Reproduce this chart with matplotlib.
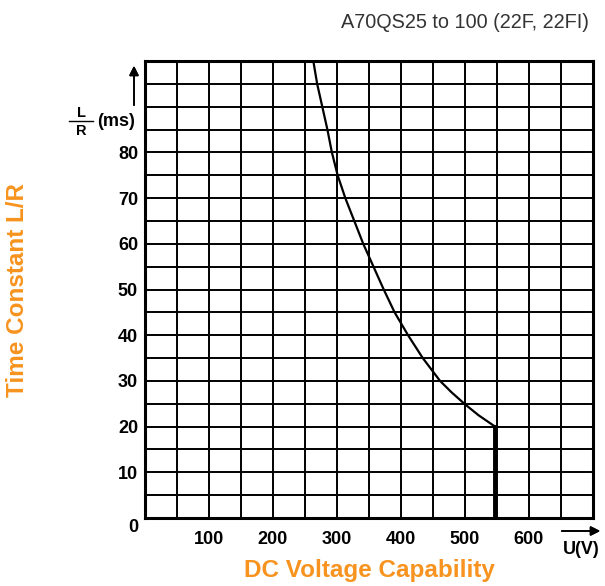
import numpy as np
import matplotlib.pyplot as plt
from matplotlib import font_manager
from matplotlib.lines import Line2D

# curve: DC voltage (V) vs time constant L/R (ms)
voltage = [263, 269, 277, 285, 292, 301, 313, 327, 341, 357, 373, 390, 411, 434, 461, 479, 499, 521, 547]
time_const = [100, 95, 90, 85, 80, 75, 70, 65, 60, 55, 50, 45, 40, 35, 30, 27.5, 25, 22.5, 20]
cutoff_v = 547
cutoff_ms = [20, 0]

x_ticks = [100, 200, 300, 400, 500, 600]
y_ticks = [10, 20, 30, 40, 50, 60, 70, 80]

orange = '#F7931E'
names = {f.name for f in font_manager.fontManager.ttflist}
narrow = 'Liberation Sans Narrow' if 'Liberation Sans Narrow' in names else 'Liberation Sans'

plt.rcParams['font.family'] = ['Liberation Sans', 'DejaVu Sans']

fig = plt.figure(figsize=(6.05, 5.86), dpi=100)
W, H = 605, 586
ax = fig.add_axes([145 / W, 1 - 518 / H, (593 - 145) / W, (518 - 61) / H])

ax.set_xlim(0, 700)
ax.set_ylim(0, 100)
ax.set_xticks(np.arange(0, 701, 50), minor=True)
ax.set_yticks(np.arange(0, 101, 5), minor=True)
ax.set_xticks(x_ticks)
ax.set_yticks(y_ticks)
ax.set_xticklabels([str(v) for v in x_ticks], fontsize=13, fontweight='bold')
ax.set_yticklabels([str(v) for v in y_ticks], fontsize=13, fontweight='bold')
ax.tick_params(axis='both', which='both', length=0)
ax.tick_params(axis='x', pad=9)
ax.tick_params(axis='y', pad=5)
ax.grid(True, which='both', color='black', linewidth=1.4)
ax.set_axisbelow(True)
for s in ax.spines.values():
    s.set_linewidth(2.2)

ax.plot(voltage, time_const, color='black', linewidth=1.6, zorder=3)
ax.plot([cutoff_v, cutoff_v], cutoff_ms, color='black', linewidth=2.8, zorder=3)

# corner zero
fig.text(133 / W, 1 - 527 / H, '0', fontsize=13, fontweight='bold', ha='center', va='center')

# y unit: L/R (ms) with upward arrow
fig.text(81 / W, 1 - 113 / H, 'L', fontsize=10.5, fontweight='bold', ha='center', va='center')
fig.text(81 / W, 1 - 131 / H, 'R', fontsize=10.5, fontweight='bold', ha='center', va='center')
fig.add_artist(Line2D([69 / W, 93 / W], [1 - 121 / H, 1 - 121 / H], color='black', linewidth=1.0))
fig.text(116 / W, 1 - 122 / H, '(ms)', fontsize=13, fontweight='bold', ha='center', va='center')
fig.add_artist(plt.annotate('', xy=(134 / W, 1 - 63 / H), xytext=(134 / W, 1 - 108 / H),
                            xycoords='figure fraction',
                            arrowprops=dict(arrowstyle='-|>', color='black', lw=1.2,
                                            mutation_scale=14)))

# x unit: U(V) with right arrow
fig.text(581 / W, 1 - 549 / H, 'U(V)', fontsize=13, fontweight='bold', ha='center', va='center')
fig.add_artist(plt.annotate('', xy=(603 / W, 1 - 531 / H), xytext=(559 / W, 1 - 531 / H),
                            xycoords='figure fraction',
                            arrowprops=dict(arrowstyle='-|>', color='black', lw=1.2,
                                            mutation_scale=14)))

# orange axis titles
fig.text(369 / W, 1 - 571 / H, 'DC Voltage Capability', fontsize=17.5, fontweight='bold',
         family=[narrow, 'DejaVu Sans'], color=orange, ha='center', va='center')
fig.text(18 / W, 1 - 290 / H, 'Time Constant L/R', fontsize=17.5, fontweight='bold',
         family=[narrow, 'DejaVu Sans'], color=orange, ha='center', va='center', rotation=90)

# model title
fig.text(589 / W, 1 - 22 / H, 'A70QS25 to 100 (22F, 22FI)', fontsize=14.3,
         family=[narrow, 'DejaVu Sans'], color='#333333', ha='right', va='center')

fig.savefig('out.png', dpi=100)
